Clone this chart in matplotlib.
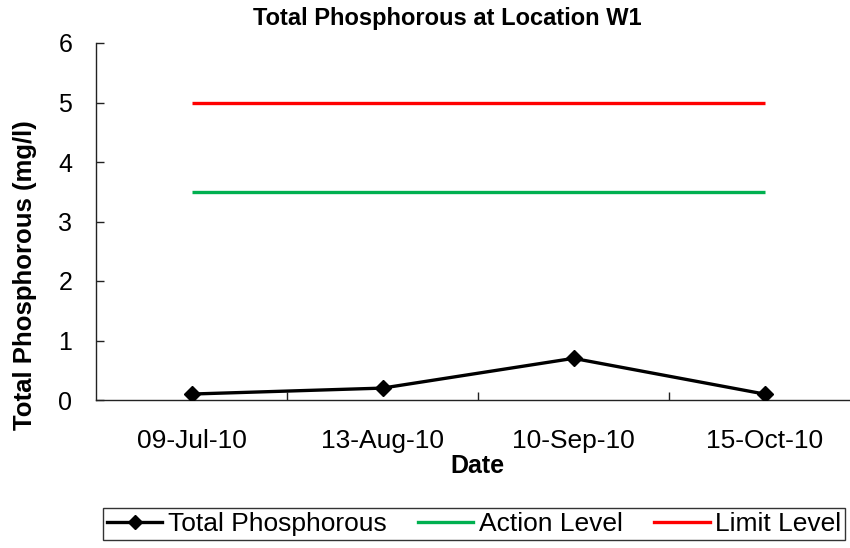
import matplotlib
matplotlib.use("Agg")
import matplotlib.pyplot as plt
from matplotlib.lines import Line2D

dates = ["09-Jul-10", "13-Aug-10", "10-Sep-10", "15-Oct-10"]
total_phosphorous = [0.1, 0.2, 0.7, 0.1]
action_level = [3.5, 3.5, 3.5, 3.5]
limit_level = [5, 5, 5, 5]
y_ticks = [0, 1, 2, 3, 4, 5, 6]

plt.rcParams['font.family'] = ['Liberation Sans', 'DejaVu Sans']

W, H = 850, 548
fig = plt.figure(figsize=(W / 100, H / 100), dpi=100)
left, right, top, bottom = 96, 860, 43, 400
ax = fig.add_axes([left / W, 1 - bottom / H, (right - left) / W, (bottom - top) / H])

x = list(range(len(dates)))
ax.plot(x, limit_level, color='#ff0000', lw=2.4, solid_capstyle='butt', label='Limit Level', zorder=2)
ax.plot(x, action_level, color='#00b050', lw=2.4, solid_capstyle='butt', label='Action Level', zorder=2)
ax.plot(x, total_phosphorous, color='black', lw=2.4, marker='D', markersize=8,
        label='Total Phosphorous', zorder=3)

ax.set_xlim(-0.5, len(dates) - 0.5)
ax.set_ylim(0, 6)
ax.set_yticks(y_ticks)
ax.set_yticklabels([str(v) for v in y_ticks])
ax.set_xticks(x)
ax.set_xticklabels(dates)
ax.set_xticks([i + 0.5 for i in range(len(dates) - 1)], minor=True)

for s in ['top', 'right']:
    ax.spines[s].set_visible(False)
for s in ['left', 'bottom']:
    ax.spines[s].set_linewidth(1.0)
    ax.spines[s].set_color('#222222')

ax.tick_params(axis='y', direction='in', length=6, width=1, pad=17, labelsize=18, color='#222222')
ax.tick_params(axis='x', which='major', length=0, pad=21, labelsize=19)
ax.tick_params(axis='x', which='minor', direction='in', length=6, width=1, color='#222222')

fig.text(447 / W, 1 - 18 / H, 'Total Phosphorous at Location W1', ha='center', va='center',
         fontsize=17, fontweight='bold')
fig.text(477 / W, 1 - 466 / H, 'Date', ha='center', va='center', fontsize=18, fontweight='bold')
fig.text(25 / W, 1 - 275 / H, 'Total Phosphorous (mg/l)', ha='center', va='center',
         rotation=90, fontsize=18.5, fontweight='bold')

handles = [
    Line2D([], [], color='black', lw=2.4, marker='D', markersize=7),
    Line2D([], [], color='#00b050', lw=2.4),
    Line2D([], [], color='#ff0000', lw=2.4),
]
labels = ['Total Phosphorous', 'Action Level', 'Limit Level']
leg = fig.legend(handles, labels, loc='center', bbox_to_anchor=(474 / W, 1 - 524 / H), ncol=3,
                 fontsize=19, frameon=True, fancybox=False, edgecolor='black',
                 handlelength=2.1, handletextpad=0.2, columnspacing=1.2,
                 borderpad=0.15, borderaxespad=0)
leg.get_frame().set_linewidth(1.0)

fig.savefig('out.png', dpi=100)
